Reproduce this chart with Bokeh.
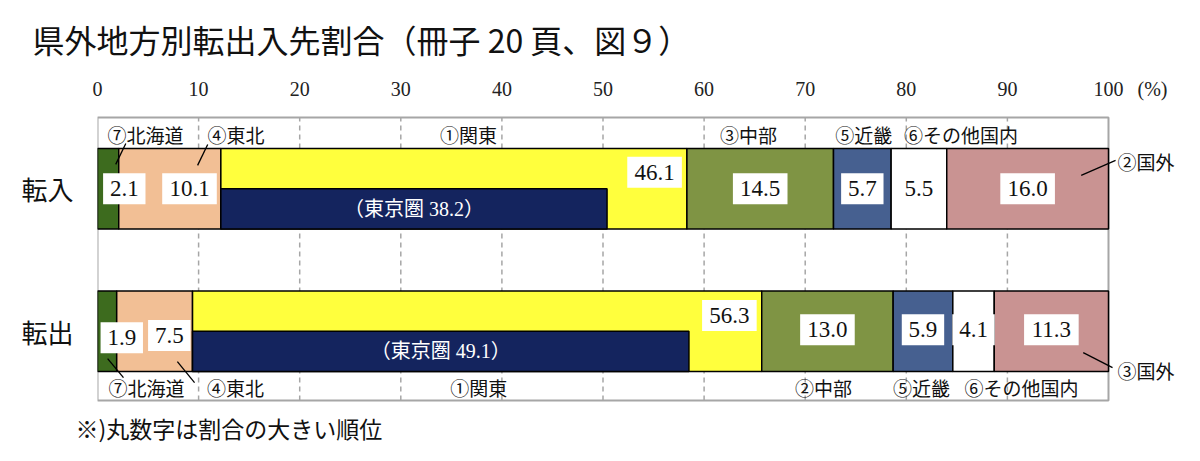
from bokeh.plotting import figure
from bokeh.models import Range1d, FixedTicker, Title, ColumnDataSource
from bokeh.core.properties import value
from bokeh.embed import file_html
from bokeh.resources import INLINE

# ---------------- data ----------------
title_text = "県外地方別転出入先割合（冊子 20 頁、図９）"
note_text = "※)丸数字は割合の大きい順位"
rows = ["転入", "転出"]
regions = ["北海道", "東北", "関東", "中部", "近畿", "その他国内", "国外"]
in_share = [2.1, 10.1, 46.1, 14.5, 5.7, 5.5, 16.0]
out_share = [1.9, 7.5, 56.3, 13.0, 5.9, 4.1, 11.3]
tokyo_share = [38.2, 49.1]          # 東京圏 (転入, 転出)
in_rank = ["⑦", "④", "①", "③", "⑤", "⑥", "②"]
out_rank = ["⑦", "④", "①", "②", "⑤", "⑥", "③"]
x_ticks = [0, 10, 20, 30, 40, 50, 60, 70, 80, 90, 100]
unit_label = "(%)"

# ---------------- styles / layout ----------------
colors = ["#3d6b1e", "#f2bf95", "#ffff3d", "#7f9444", "#466090", "#ffffff", "#c99392"]
tokyo_color = "#14245e"
grid_color = "#a6a6a6"
row_y = {"転入": 2.0, "転出": 1.0}
BAR_H = 0.566
FRAME_TOP, FRAME_BOTTOM = 2.5, 0.514
UNIT_POS = 104.35
JP = "Noto Sans CJK JP"
SERIF = "Liberation Serif"
MIX = "Liberation Serif, Noto Sans CJK JP"

# label nudges (in % units) relative to segment mid points
val_dx = {"転入": [1.6, 1.95, 0, 0, 0, 0, 0], "転出": [1.45, 1.45, 0, 0, 0, 0, 0]}
val_dy = {"転入": [0, 0, 0.115, 0, 0, 0, 0], "転出": [-0.045, -0.03, 0.11, 0.01, 0.01, 0.01, 0.01]}
lab_dx = {"転入": [3.7, 6.55, 1.45, -1.15, 0.15, 4.15], "転出": [3.9, 8.0, 0.15, -0.4, -0.15, 4.75]}
leaders = [
    (2.8, 2.318, 1.8, 2.171), (10.9, 2.311, 9.9, 2.164), (97.3, 2.094, 100.7, 2.199),
    (1.0, 0.808, 2.57, 0.675), (7.9, 0.787, 9.6, 0.64), (97.5, 0.85, 100.4, 0.745),
]

p = figure(width=1200, height=461, x_range=Range1d(0, 109.1), y_range=Range1d(0.493, 2.521),
           x_axis_location="above", output_backend="svg", toolbar_location=None,
           min_border_left=97, min_border_right=0, min_border_top=113, min_border_bottom=58)
p.outline_line_color = None
p.xgrid.visible = False
p.ygrid.visible = False
p.background_fill_color = "white"
p.border_fill_color = "white"

# titles
p.title.text = title_text
p.title.align = "left"
p.title.offset = -65
p.title.standoff = 26
p.title.text_line_height = 0.7
p.title.text_font = JP
p.title.text_font_size = "32px"
p.title.text_font_style = "normal"
p.title.text_color = "#111111"
p.add_layout(Title(text=note_text, align="left", offset=-22, text_font=JP,
                   text_font_size="23px", text_font_style="normal", text_color="#111111"),
             "below")

# axes
p.xaxis.ticker = FixedTicker(ticks=x_ticks + [UNIT_POS])
p.xaxis.major_label_overrides = {UNIT_POS: unit_label}
p.xaxis.major_label_text_font = SERIF
p.xaxis.major_label_text_font_size = "20px"
p.xaxis.major_label_text_color = "#222222"
p.xaxis.major_label_standoff = 15
p.xaxis.major_tick_in = 0
p.xaxis.major_tick_out = 0
p.xaxis.minor_tick_line_color = None
p.xaxis.axis_line_color = None

p.yaxis.ticker = FixedTicker(ticks=[row_y[r] for r in rows])
p.yaxis.major_label_overrides = {row_y[r]: r for r in rows}
p.yaxis.major_label_text_font = JP
p.yaxis.major_label_text_font_size = "26px"
p.yaxis.major_label_text_color = "#111111"
p.yaxis.major_label_standoff = 24
p.yaxis.major_tick_in = 0
p.yaxis.major_tick_out = 0
p.yaxis.minor_tick_line_color = None
p.yaxis.axis_line_color = None

# dashed grid lines and frame
inner = [t for t in x_ticks if 0 < t < 100]
p.segment(x0=inner, y0=[FRAME_BOTTOM] * len(inner), x1=inner, y1=[FRAME_TOP] * len(inner),
          line_color=grid_color, line_width=1.5, line_dash="5 4")
p.quad(left=[0], right=[100], bottom=[FRAME_BOTTOM], top=[FRAME_TOP],
       fill_color=None, line_color=grid_color, line_width=2)

shares = {"転入": in_share, "転出": out_share}
ranks = {"転入": in_rank, "転出": out_rank}

for ri, r in enumerate(rows):
    vals = shares[r]
    y = row_y[r]
    left, right = [], []
    acc = 0.0
    for v in vals:
        left.append(acc)
        acc += v
        right.append(acc)
    src = ColumnDataSource(dict(left=left, right=right,
                                bottom=[y - BAR_H / 2] * len(vals), top=[y + BAR_H / 2] * len(vals),
                                color=colors))
    p.quad(left="left", right="right", bottom="bottom", top="top", fill_color="color",
           line_color="black", line_width=1.5, source=src)
    # Tokyo area (lower half of Kanto)
    tl = left[2]
    p.quad(left=[tl], right=[tl + tokyo_share[ri]], bottom=[y - BAR_H / 2], top=[y],
           fill_color=tokyo_color, line_color="black", line_width=1.5)
    p.text(x=[tl + tokyo_share[ri] / 2], y=[y - BAR_H / 4],
           text=[f"（東京圏 {tokyo_share[ri]:.1f}）"], text_font=value(MIX),
           text_font_size=value("20px"), text_color="white",
           text_align="center", text_baseline="middle")

    # value labels in white boxes
    vx, vy, vt, vw = [], [], [], []
    for i, v in enumerate(vals):
        if i == 2:
            x = right[i] - 3.2
        else:
            x = (left[i] + right[i]) / 2 + val_dx[r][i]
        t = f"{v:.1f}"
        vx.append(x)
        vy.append(y + val_dy[r][i])
        vt.append(t)
        vw.append(12.2 * (len(t) - 1) + 6 + 12)
    p.rect(x=vx, y=vy, width=vw, height=[31] * len(vx), width_units="screen",
           height_units="screen", fill_color="white", line_color=None)
    p.text(x=vx, y=vy, text=vt, text_font=value(SERIF), text_font_size=value("23px"),
           text_color="#111111", text_align="center", text_baseline="middle")

    # region labels (top row for 転入, bottom row for 転出)
    ly = y + BAR_H / 2 + 0.098 if r == "転入" else y - BAR_H / 2 - 0.112
    lx, lt = [], []
    for i in range(6):
        lx.append((left[i] + right[i]) / 2 + lab_dx[r][i])
        lt.append(ranks[r][i] + regions[i])
    p.text(x=lx, y=[ly] * len(lx), text=lt, text_font=value(JP), text_font_size=value("19px"),
           text_color="#111111", text_align="center", text_baseline="middle")
    # overseas label outside the frame
    oy = y + 0.19 if r == "転入" else y - 0.276
    p.text(x=[100.9], y=[oy], text=[ranks[r][6] + regions[6]], text_font=value(JP),
           text_font_size=value("19px"), text_color="#111111", text_align="left",
           text_baseline="middle")

p.segment(x0=[l[0] for l in leaders], y0=[l[1] for l in leaders],
          x1=[l[2] for l in leaders], y1=[l[3] for l in leaders],
          line_color="black", line_width=1.3)

open("out.html", "w").write(file_html(p, INLINE))
